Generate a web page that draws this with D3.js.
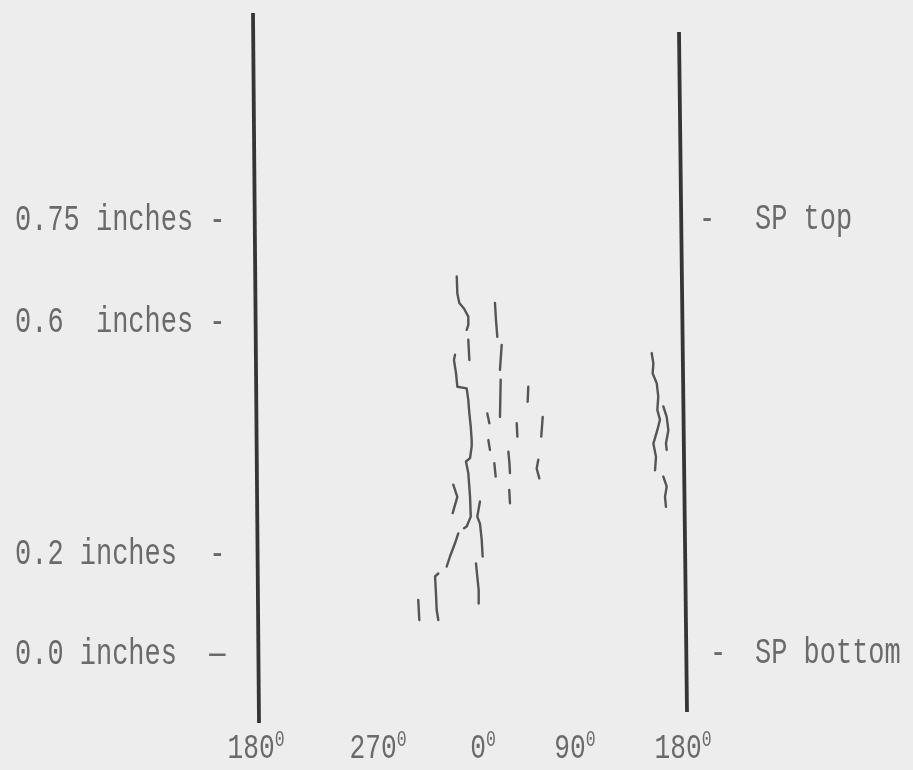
<!DOCTYPE html>
<html>
<head>
<meta charset="utf-8">
<script src="https://cdn.jsdelivr.net/npm/d3@7"></script>
<style>
body { margin: 0; background: #ededed; }
</style>
</head>
<body>
<div class="chart"></div>
<script>
var w = 913;
var h = 770;
var colorBack = "#ededed";
var colorLine = "#363636";
var colorCrack = "#555555";
var colorText = "#6a6a6a";
var fontMono = "'Liberation Mono', 'DejaVu Sans Mono', monospace";

// circumferential position, degrees away from 0 (unrolled, -180..180)
var angleTicks = [-180, -90, 0, 90, 180];
var angleLabels = ["180", "270", "0", "90", "180"];

// axial position, inches above the SP bottom
var heightTicks = [0.75, 0.6, 0.2, 0.0];
var heightLabels = ["0.75 inches -", "0.6  inches -", "0.2 inches  -", "0.0 inches  \u2014"];
var spTicks = [0.75, 0.0];
var spLabels = ["SP top", "SP bottom"];

// crack traces, each one a list of [degrees, inches]
var cracksLeft = [
	[[-22.5, 0.664], [-22, 0.639], [-20.3, 0.625], [-16.3, 0.617], [-12.6, 0.605], [-12.6, 0.591], [-14, 0.583]],
	[[-12.6, 0.566], [-11.7, 0.531]],
	[[-24, 0.54], [-24.9, 0.531], [-23.1, 0.508], [-22, 0.485], [-14, 0.482], [-12.6, 0.462], [-11.7, 0.439],
	 [-10.5, 0.416], [-9.7, 0.393], [-9.7, 0.382], [-11.1, 0.362], [-14.6, 0.356], [-12.6, 0.336], [-11.1, 0.295],
	 [-10.5, 0.261], [-14, 0.244], [-16.3, 0.241]],
	[[-21.2, 0.232], [-24, 0.215], [-28.3, 0.191], [-31.1, 0.171]],
	[[-38.3, 0.157], [-41.1, 0.151], [-40.3, 0.117], [-39.7, 0.084], [-38.3, 0.064]],
	[[-55.5, 0.104], [-54.6, 0.064]],
	[[-25.5, 0.316], [-22, 0.295], [-26, 0.267]]
];
var cracksCenter = [
	[[-2.6, 0.287], [-4.9, 0.261], [-2.6, 0.249], [-1.1, 0.221], [-0.3, 0.191]],
	[[-6, 0.177], [-4.9, 0.151], [-3.7, 0.124], [-3.7, 0.097]],
	[[11.7, 0.625], [12.7, 0.6], [14, 0.571]],
	[[18.3, 0.557], [16.6, 0.514]],
	[[17.3, 0.497], [16.6, 0.433]],
	[[4.2, 0.439], [6.2, 0.422]],
	[[5.2, 0.393], [6.8, 0.376]],
	[[11.1, 0.353], [12.4, 0.33]],
	[[24.8, 0.373], [25.8, 0.355], [26.4, 0.336]],
	[[25.7, 0.307], [26.4, 0.284]],
	[[33, 0.422], [33.6, 0.399]],
	[[44.3, 0.485], [43.7, 0.459]],
	[[58.4, 0.433], [57, 0.399]],
	[[54.1, 0.359], [52.5, 0.344], [55.1, 0.327]]
];
var cracksFar = [
	[[153.9, 0.543], [155.3, 0.525], [154.7, 0.508], [158.1, 0.491], [159.4, 0.468], [158.6, 0.445],
	 [160.8, 0.428], [158.6, 0.41], [155.3, 0.387], [157.5, 0.364], [156.7, 0.341]],
	[[163.6, 0.451], [166.4, 0.433], [167.8, 0.41], [165.8, 0.387], [166.4, 0.376]],
	[[163.6, 0.33], [166.4, 0.313], [165, 0.295], [165.8, 0.278]]
];

var svg;
var x = d3.scaleLinear().domain(angleTicks).range([256, 378, 483, 575, 683]);
var y = d3.scaleLinear().domain(heightTicks).range([218, 320, 552, 652]);

drawMap(".chart");

function drawMap(dom) {
	svg = d3.select(dom)
		.append("svg")
		.attr("width", w)
		.attr("height", h)
		.style("background", colorBack);

	svg.append("defs")
		.append("filter")
		.attr("id", "scan")
		.append("feGaussianBlur")
		.attr("stdDeviation", 0.6);

	drawAxes();
	drawCracks();
}

function drawAxes() {
	var g = svg.append("g").attr("filter", "url(#scan)");

	// the two 180 degree edges of the unrolled surface, slightly skewed as drawn
	g.append("line")
		.attr("x1", x(-180) - 3)
		.attr("y1", 13)
		.attr("x2", x(-180) + 3)
		.attr("y2", 723)
		.attr("stroke", colorLine)
		.attr("stroke-width", 3.8);

	g.append("line")
		.attr("x1", x(180) - 4)
		.attr("y1", 32)
		.attr("x2", x(180) + 4)
		.attr("y2", 712)
		.attr("stroke", colorLine)
		.attr("stroke-width", 3.8);

	g.selectAll(".hlab")
		.data(heightTicks)
		.enter()
		.append("text")
		.attr("class", "hlab")
		.attr("transform", function(d) { return "translate(15," + (y(d) + 12) + ") scale(0.75,1)"; })
		.style("white-space", "pre")
		.attr("font-family", fontMono)
		.attr("font-size", 36)
		.attr("fill", colorText)
		.text(function(d, i) { return heightLabels[i]; });

	g.selectAll(".spdash")
		.data(spTicks)
		.enter()
		.append("text")
		.attr("class", "spdash")
		.attr("transform", function(d, i) { return "translate(" + (x(180) + (i == 0 ? 24 : 35)) + "," + (y(d) + 11) + ") scale(0.75,1)"; })
		.attr("text-anchor", "middle")
		.attr("font-family", fontMono)
		.attr("font-size", 36)
		.attr("fill", colorText)
		.text("-");

	g.selectAll(".splab")
		.data(spTicks)
		.enter()
		.append("text")
		.attr("class", "splab")
		.attr("transform", function(d) { return "translate(" + (x(180) + 72) + "," + (y(d) + 11) + ") scale(0.75,1)"; })
		.attr("font-family", fontMono)
		.attr("font-size", 36)
		.attr("fill", colorText)
		.text(function(d, i) { return spLabels[i]; });

	var alab = g.selectAll(".alab")
		.data(angleTicks)
		.enter()
		.append("text")
		.attr("class", "alab")
		.attr("transform", function(d) { return "translate(" + x(d) + ",758) scale(0.75,1)"; })
		.attr("text-anchor", "middle")
		.attr("font-family", fontMono)
		.attr("font-size", 35)
		.attr("fill", colorText);

	alab.append("tspan")
		.text(function(d, i) { return angleLabels[i]; });

	alab.append("tspan")
		.attr("dy", -12)
		.attr("font-size", 22)
		.text("0");
}

function drawCracks() {
	var line = d3.line()
		.x(function(d) { return x(d[0]); })
		.y(function(d) { return y(d[1]); });

	var g = svg.append("g").attr("filter", "url(#scan)");

	g.selectAll(".crack")
		.data(cracksLeft.concat(cracksCenter, cracksFar))
		.enter()
		.append("path")
		.attr("class", "crack")
		.attr("d", line)
		.attr("fill", "none")
		.attr("stroke", colorCrack)
		.attr("stroke-width", 2.4)
		.attr("stroke-linejoin", "round")
		.attr("stroke-linecap", "round");
}
</script>
</body>
</html>
